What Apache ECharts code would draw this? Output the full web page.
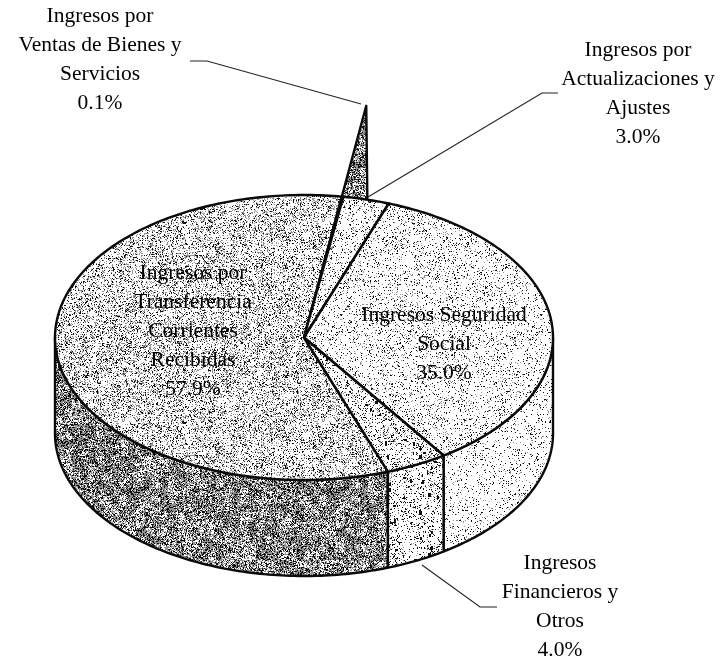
<!DOCTYPE html>
<html>
<head>
<meta charset="utf-8">
<title>Ingresos</title>
<style>
  html, body { margin: 0; padding: 0; background: #fff; }
  #chart { width: 722px; height: 662px; }
</style>
<script src="https://cdn.jsdelivr.net/npm/echarts@6/dist/echarts.min.js"></script>
</head>
<body>
<div id="chart"></div>
<script>
// datos
var categories = [
  'Ingresos por\nTransferencia\nCorrientes\nRecibidas',
  'Ingresos por\nVentas de Bienes y\nServicios',
  'Ingresos por\nActualizaciones y\nAjustes',
  'Ingresos Seguridad\nSocial',
  'Ingresos\nFinancieros y\nOtros'
];
var values = [57.9, 0.1, 3.0, 35.0, 4.0];

// posicion de las etiquetas (centro del bloque de texto)
var labelX = [193, 100, 638, 444, 560];
var labelY = [331.5, 60, 93.5, 344.5, 606.5];

// lineas guia, por categoria
var leaders = [
  null,
  [[190, 61], [207, 61], [361, 104]],
  [[558, 93], [542, 93], [368, 197]],
  null,
  [[497, 607], [480, 607], [422, 565]]
];

// geometria del disco
var cx = 304, cy = 337.5, rx = 249, ry = 142.5, depth = 96;
var startAngle = 160.3;  // grados, horario desde las 12

// trama de cada superficie: [negro, gris, manchas 3x3]
var topTone = [[0.12, 0.2, 0], [0.3, 0.4, 0], [0.08, 0.08, 0], [0.07, 0.08, 0], [0.12, 0.08, 120]];
var wallTone = [[0.3, 0.42, 0], null, null, [0.06, 0.05, 0], [0.12, 0.06, 150]];

// textura con un generador fijo, para que salga igual en cada carga
function texture(tone, seed) {
  var size = 200, c = document.createElement('canvas');
  c.width = c.height = size;
  var ctx = c.getContext('2d'), img = ctx.createImageData(size, size), s = seed;
  function next() {
    s = (s * 1664525 + 1013904223) % 4294967296;
    return s / 4294967296;
  }
  var cells = [];
  for (var k = 0; k < 900; k++) cells.push(next());
  for (var y = 0; y < size; y++) {
    for (var x = 0; x < size; x++) {
      // manchas suaves para que no se vea uniforme
      var blotch = 0.7 + 0.6 * cells[(x >> 3) + 30 * (y >> 3)];
      var r = next(), v = 255;
      if (r < tone[0] * blotch) v = 15;
      else if (r < (tone[0] + tone[1]) * blotch) v = 145;
      var i = (y * size + x) * 4;
      img.data[i] = img.data[i + 1] = img.data[i + 2] = v;
      img.data[i + 3] = 255;
    }
  }
  ctx.putImageData(img, 0, 0);
  ctx.fillStyle = '#111';
  for (var n = 0; n < tone[2]; n++) {
    ctx.fillRect(Math.floor(next() * size), Math.floor(next() * size), 2 + Math.floor(next() * 2), 2 + Math.floor(next() * 3));
  }
  return { image: c, repeat: 'repeat' };
}

var topFill = topTone.map(function (t, i) { return texture(t, 11 + i * 7); });
var wallFill = wallTone.map(function (t, i) { return t ? texture(t, 97 + i * 13) : null; });

function rim(deg, scale) {
  var a = deg * Math.PI / 180, k = scale || 1;
  return [cx + rx * k * Math.sin(a), cy - ry * k * Math.cos(a)];
}

function arc(from, to) {
  var pts = [], n = Math.max(2, Math.ceil(Math.abs(to - from)));
  for (var i = 0; i <= n; i++) pts.push(rim(from + (to - from) * i / n));
  return pts;
}

// angulos acumulados a partir de los valores, en 0-360 al inicio de cada rebanada
var total = values.reduce(function (a, b) { return a + b; }, 0);
var sliceFrom = [];
values.reduce(function (acc, v, i) {
  sliceFrom[i] = acc % 360;
  return acc + v / total * 360;
}, startAngle);

function renderSlice(params, api) {
  var i = api.value(1);
  var from = sliceFrom[i], to = from + api.value(0) / total * 360;
  var kids = [];
  var line = { stroke: '#0a0a0a', lineWidth: 2.4, lineJoin: 'round' };

  // la rebanada minima se ve como una espiga por detras del disco
  if (values[i] < 0.5) {
    kids.push({
      type: 'polygon',
      z2: 1,
      shape: { points: [rim(from), rim(from, 1.645), rim(from + 6)] },
      style: Object.assign({ fill: topFill[i] }, line)
    });
  }

  // pared: solo la mitad frontal (90 a 270 grados)
  var a = Math.max(from, 90), b = Math.min(to, 270);
  if (b > a && wallFill[i]) {
    var upper = arc(a, b);
    var lower = upper.map(function (p) { return [p[0], p[1] + depth]; }).reverse();
    kids.push({
      type: 'polygon',
      z2: 2,
      shape: { points: upper.concat(lower) },
      style: Object.assign({ fill: wallFill[i] }, line)
    });
  }

  // cara superior
  kids.push({
    type: 'polygon',
    z2: 3,
    shape: { points: [[cx, cy]].concat(arc(from, to)) },
    style: Object.assign({ fill: topFill[i] }, line)
  });

  if (leaders[i]) {
    kids.push({
      type: 'polyline',
      z2: 4,
      shape: { points: leaders[i] },
      style: { fill: 'none', stroke: '#222', lineWidth: 1.1 }
    });
  }

  kids.push({
    type: 'text',
    z2: 5,
    style: {
      text: categories[i] + '\n' + values[i].toFixed(1) + '%',
      x: labelX[i],
      y: labelY[i],
      align: 'center',
      verticalAlign: 'middle',
      font: '21.5px "Liberation Serif", serif',
      lineHeight: 29,
      fill: '#000'
    }
  });

  return { type: 'group', children: kids };
}

var myChart = echarts.init(document.getElementById('chart'));
myChart.setOption({
  backgroundColor: '#ffffff',
  animation: false,
  series: [{
    type: 'custom',
    coordinateSystem: 'none',
    silent: true,
    renderItem: renderSlice,
    data: values.map(function (v, i) { return [v, i]; })
  }]
});
</script>
</body>
</html>
